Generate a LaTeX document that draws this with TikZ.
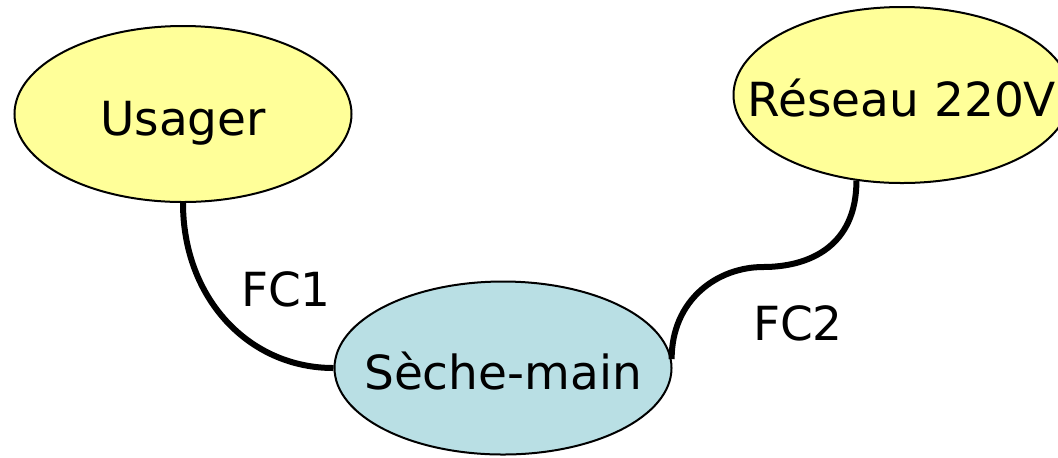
\documentclass[tikz,border=0pt]{standalone}
\usepackage{fontspec}
\setmainfont{DejaVu Sans}
\usetikzlibrary{shapes.geometric}
\definecolor{jaune}{HTML}{FFFF99}
\definecolor{bleu}{HTML}{B9DFE4}

\begin{document}
\begin{tikzpicture}[x=0.5pt,y=-0.5pt,
    bulle/.style={ellipse,draw=black,line width=1pt,inner xsep=-20pt,inner ysep=0pt,
        text height=21.5pt,text depth=0pt,
        minimum width=168.5pt,minimum height=88pt,font=\fontsize{23.5}{28}\selectfont},
    lien/.style={line width=3pt},
    etiq/.style={font=\fontsize{23.5}{28}\selectfont}]
                \useasboundingbox (0,0) rectangle (1058,457);
                \node[bulle,fill=jaune](U) at (183,114) {Usager};
                \node[bulle,fill=jaune](R) at (902,95) {Réseau 220V};
                \node[bulle,fill=bleu,minimum height=86.5pt](S) at (503,368) {Sèche-main};
                \draw[lien](U.south) .. controls +(0,95) and +(-85,0) .. (S.west);
                \draw[lien](S.3) .. controls +(0,-60) and +(-45,0) .. (763,267) coordinate(M);
                \draw[lien](M) .. controls +(47,0) and +(0,65) .. (R.242);
                \node[etiq](F1) at (286,289) {FC1};
                \node[etiq](F2) at (798,323) {FC2};
            \end{tikzpicture}
\end{document}
